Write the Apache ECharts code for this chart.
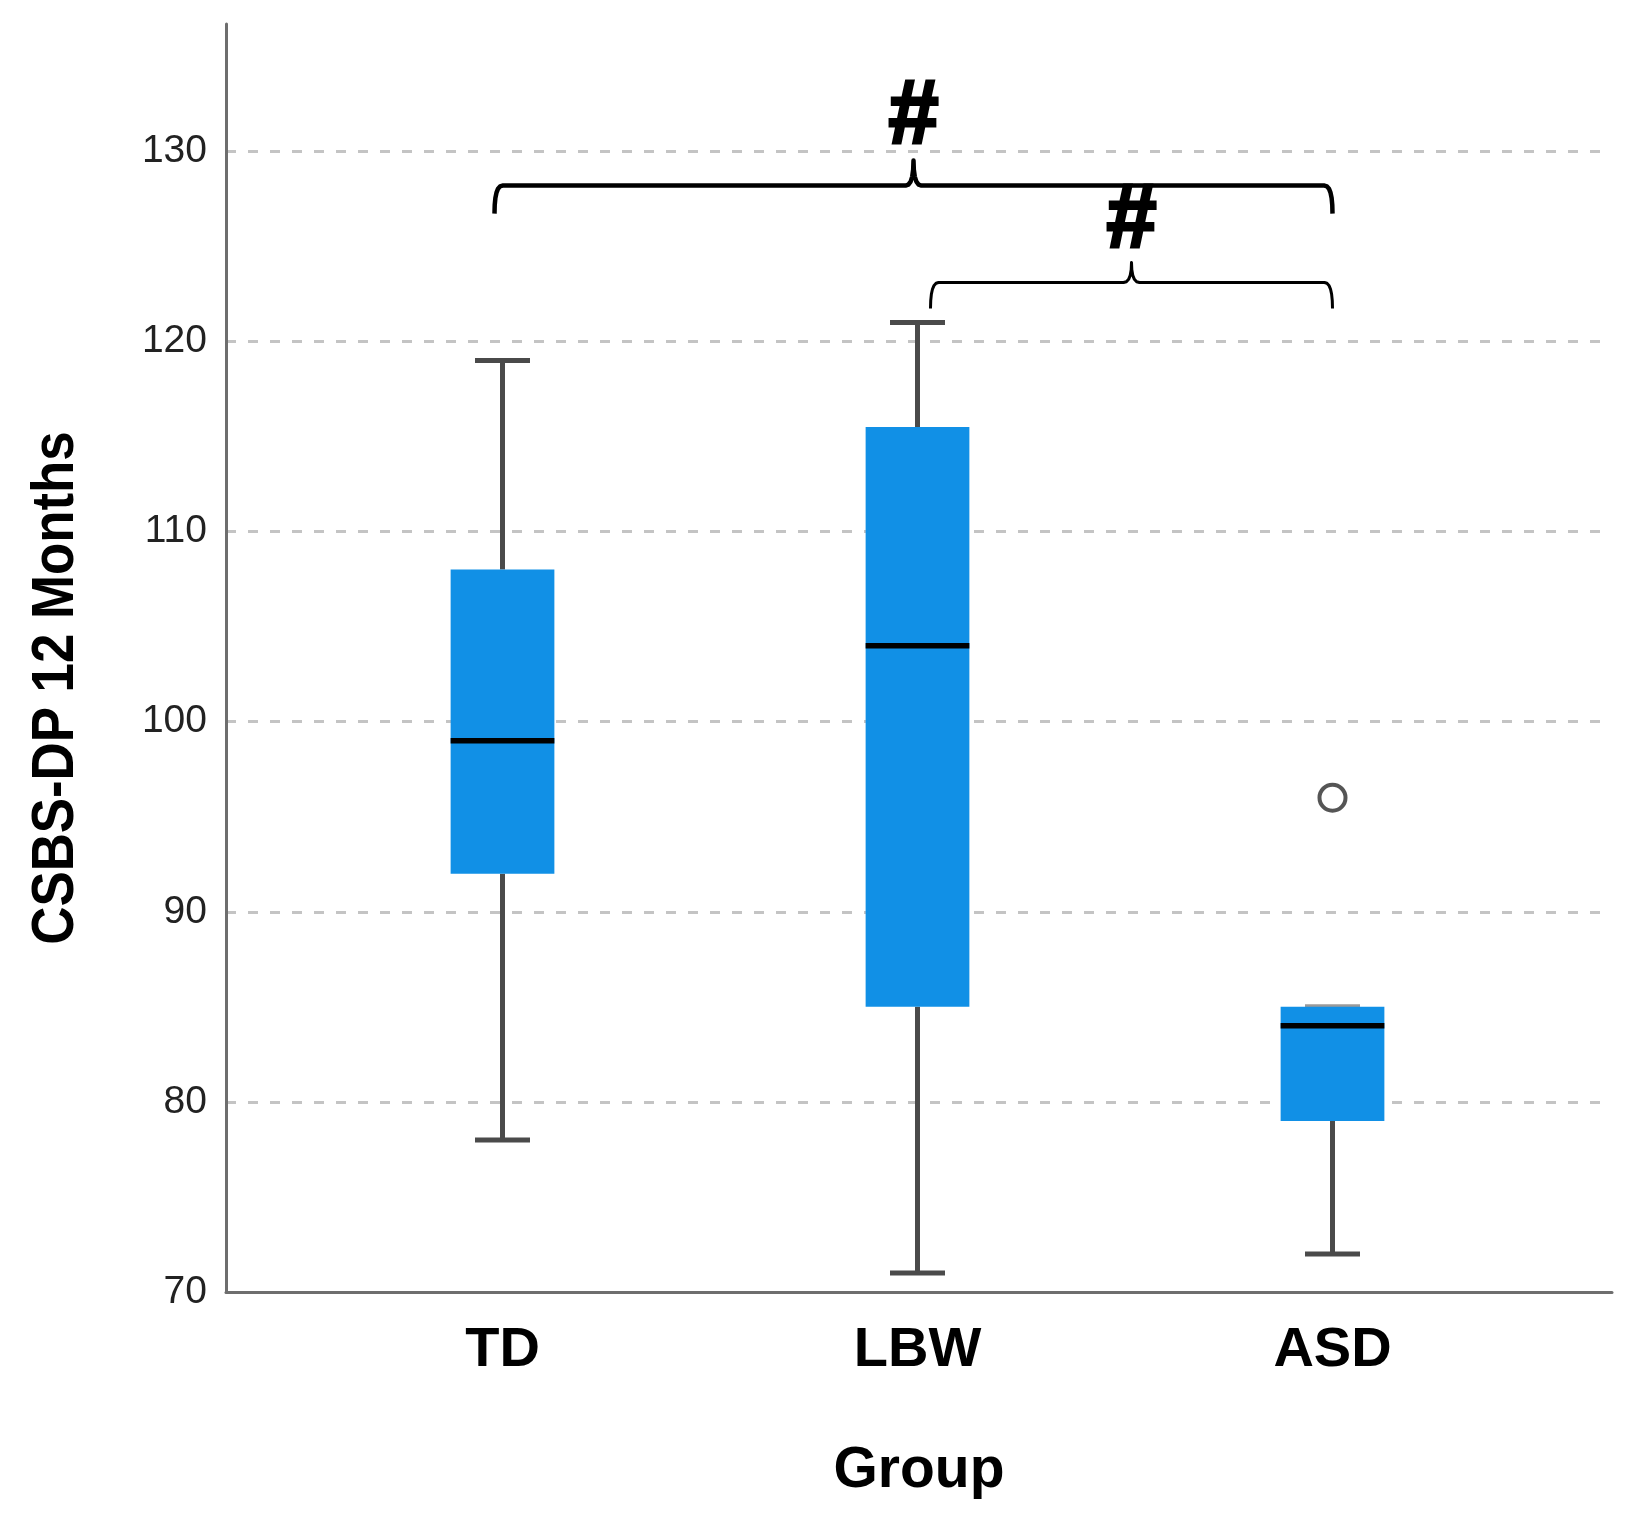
<!DOCTYPE html>
<html>
<head>
<meta charset="utf-8">
<script src="https://cdn.jsdelivr.net/npm/echarts@6/dist/echarts.min.js"></script>
<style>html,body{margin:0;padding:0;background:#fff;}#chart{width:1630px;height:1524px;}</style>
</head>
<body>
<div id="chart"></div>
<script>
// ---- data ----
const categories = ['TD', 'LBW', 'ASD'];
const whiskerLow = [78, 71, 72];
const quartile1 = [92, 85, 79];
const medians = [99, 104, 84];
const quartile3 = [108, 115.5, 85];
const whiskerHigh = [119, 121, 85];
const outlierGroups = ['ASD'];
const outlierValues = [96];
const yMin = 70, yMax = 136.7, yStep = 10;
const bracketFrom = ['TD', 'LBW'];
const bracketTo = ['ASD', 'ASD'];
const bracketLevel = [128.2, 123.1];
const bracketLabel = ['#', '#'];
const xTitle = 'Group';
const yTitle = 'CSBS-DP 12 Months';

const FONT = 'Liberation Sans';
const chart = echarts.init(document.getElementById('chart'));

const boxData = categories.map((c, i) => [i, whiskerLow[i], quartile1[i], medians[i], quartile3[i], whiskerHigh[i]]);
const outlierData = outlierGroups.map((g, i) => [g, outlierValues[i]]);
const bracketData = bracketFrom.map((f, i) => [categories.indexOf(f), categories.indexOf(bracketTo[i]), bracketLevel[i], i]);

// style per bracket (pixels)
const bracketStyle = [
  { insetL: -8, insetR: 0, drop: 28, peak: 25, width: 4.5, gap: 42 },
  { insetL: 13, insetR: 0, drop: 26, peak: 20, width: 3, gap: 40 }
];

function quad(p0, c, p1, n) {
  const pts = [];
  for (let k = 1; k <= n; k++) {
    const t = k / n, u = 1 - t;
    pts.push([u * u * p0[0] + 2 * u * t * c[0] + t * t * p1[0], u * u * p0[1] + 2 * u * t * c[1] + t * t * p1[1]]);
  }
  return pts;
}

const option = {
  backgroundColor: '#fff',
  animation: false,
  grid: [
    { left: 226, right: 18, top: 24, bottom: 232, containLabel: false, outerBoundsMode: 'none' },
    { left: 295, right: 90, top: 24, bottom: 232, containLabel: false, outerBoundsMode: 'none' }
  ],
  xAxis: [
    {
      gridIndex: 0, type: 'value', min: 0, max: 1,
      axisLine: { show: true, onZero: false, lineStyle: { color: '#6e6e6e', width: 3 } },
      axisTick: { show: false }, axisLabel: { show: false }, splitLine: { show: false },
      name: xTitle, nameLocation: 'middle', nameGap: 151,
      nameTextStyle: { fontSize: 57, fontWeight: 'bold', color: '#000', fontFamily: FONT }
    },
    {
      gridIndex: 1, type: 'category', data: categories,
      axisLine: { show: false }, axisTick: { show: false },
      axisLabel: { fontSize: 56, fontWeight: 'bold', color: '#000', fontFamily: FONT, margin: 31 }
    }
  ],
  yAxis: [
    {
      gridIndex: 0, type: 'value', min: yMin, max: yMax, interval: yStep,
      axisLine: { show: true, onZero: false, lineStyle: { color: '#6e6e6e', width: 3 } },
      axisTick: { show: false },
      axisLabel: { fontSize: 39, color: '#222', fontFamily: FONT, margin: 19, showMaxLabel: false },
      splitLine: { show: true, showMaxLine: false, showMinLine: false,
        lineStyle: { color: '#c4c4c4', width: 3, type: [10, 12] } }
    },
    { gridIndex: 1, type: 'value', min: yMin, max: yMax, interval: yStep, show: false }
  ],
  graphic: [
    {
      type: 'text', x: 56, y: 688, rotation: Math.PI / 2, scaleX: 0.88, scaleY: 1,
      style: { text: yTitle, fontSize: 60, fontWeight: 'bold', fontFamily: FONT, fill: '#000',
        align: 'center', verticalAlign: 'middle' }
    }
  ],
  series: [
    {
      type: 'custom', xAxisIndex: 1, yAxisIndex: 1, z: 3,
      data: boxData,
      encode: { x: 0, y: [1, 2, 3, 4, 5] },
      renderItem: function (params, api) {
        const idx = api.value(0);
        const band = api.size([1, 0])[0];
        const boxW = band * 0.25;
        const capW = 55;
        const pLow = api.coord([idx, api.value(1)]);
        const pQ1 = api.coord([idx, api.value(2)]);
        const pMed = api.coord([idx, api.value(3)]);
        const pQ3 = api.coord([idx, api.value(4)]);
        const pHigh = api.coord([idx, api.value(5)]);
        const x = pMed[0];
        const wStyle = { stroke: '#4a4a4a', lineWidth: 5 };
        const hiCapStyle = api.value(5) === api.value(4) ? { stroke: '#9a9a9a', lineWidth: 5 } : wStyle;
        return {
          type: 'group',
          children: [
            { type: 'line', shape: { x1: x, y1: pLow[1], x2: x, y2: pQ1[1] }, style: wStyle },
            { type: 'line', shape: { x1: x, y1: pQ3[1], x2: x, y2: pHigh[1] }, style: wStyle },
            { type: 'line', shape: { x1: x - capW / 2, y1: pLow[1], x2: x + capW / 2, y2: pLow[1] }, style: wStyle },
            { type: 'line', shape: { x1: x - capW / 2, y1: pHigh[1], x2: x + capW / 2, y2: pHigh[1] }, style: hiCapStyle },
            { type: 'rect', shape: { x: x - boxW / 2, y: pQ3[1], width: boxW, height: pQ1[1] - pQ3[1] },
              style: { fill: '#1190e6' } },
            { type: 'line', shape: { x1: x - boxW / 2, y1: pMed[1], x2: x + boxW / 2, y2: pMed[1] },
              style: { stroke: '#000', lineWidth: 5.5 } }
          ]
        };
      }
    },
    {
      type: 'scatter', xAxisIndex: 1, yAxisIndex: 1, z: 4,
      data: outlierData, symbol: 'circle', symbolSize: 26,
      itemStyle: { color: '#fff', borderColor: '#2a2a2a', borderWidth: 4 }
    },
    {
      type: 'custom', xAxisIndex: 1, yAxisIndex: 1, z: 5,
      data: bracketData,
      encode: { x: [0, 1], y: 2 },
      renderItem: function (params, api) {
        const i0 = api.value(0), i1 = api.value(1), lvl = api.value(2), k = api.value(3);
        const st = bracketStyle[k];
        const pL = api.coord([i0, lvl]);
        const pR = api.coord([i1, lvl]);
        const yh = pL[1];
        const xl = pL[0] + st.insetL, xr = pR[0] + st.insetR;
        const xm = (xl + xr) / 2;
        const r = 8, s = 8;
        let pts = [[xl, yh + st.drop]];
        pts = pts.concat(quad([xl, yh + st.drop], [xl, yh], [xl + r, yh], 6));
        pts.push([xm - s, yh]);
        pts = pts.concat(quad([xm - s, yh], [xm, yh], [xm, yh - st.peak], 5));
        pts = pts.concat(quad([xm, yh - st.peak], [xm, yh], [xm + s, yh], 5));
        pts.push([xr - r, yh]);
        pts = pts.concat(quad([xr - r, yh], [xr, yh], [xr, yh + st.drop], 6));
        return {
          type: 'group',
          children: [
            { type: 'polyline', shape: { points: pts }, style: { stroke: '#000', lineWidth: st.width, fill: null, lineJoin: 'round' } },
            { type: 'text', x: xm, y: yh - st.peak - st.gap,
              style: { text: bracketLabel[k], fontSize: 90, fontWeight: 'bold', fontFamily: FONT,
                fill: '#000', stroke: '#000', lineWidth: 3, align: 'center', verticalAlign: 'middle' } }
          ]
        };
      }
    }
  ]
};
chart.setOption(option);
</script>
</body>
</html>
